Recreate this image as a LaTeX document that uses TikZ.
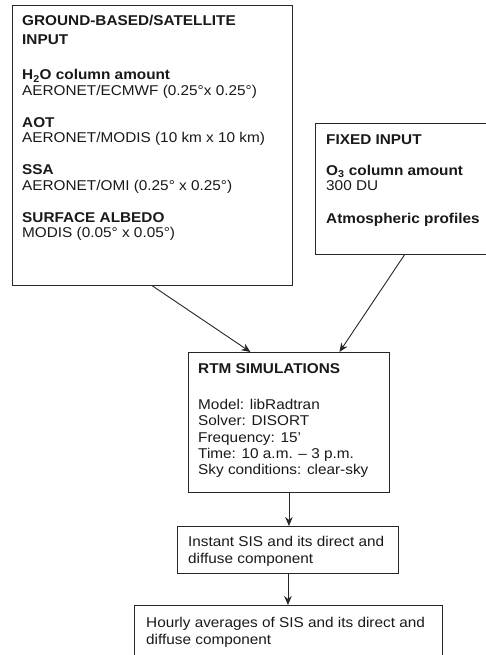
\documentclass[tikz,border=0pt]{standalone}
\usepackage{fontspec}
\setmainfont{Liberation Sans}[FakeStretch=1.08, BoldFeatures={FakeStretch=1.08}]
\usetikzlibrary{arrows.meta}
\tikzset{
 box/.style={draw=black!85, line width=0.9pt, rectangle, inner sep=0pt, anchor=north west},
 txt/.style={anchor=base west, inner sep=0pt, text=black!90, font=\fontsize{14.2}{15.5}\selectfont},
 arr/.style={draw=black!85, line width=0.9pt, -{Stealth[length=9pt,width=7.5pt]}},
}
\newcommand{\tlines}[1]{\begin{tabular}[t]{@{}l@{}}#1\end{tabular}}
\begin{document}
\begin{tikzpicture}[x=1pt,y=-1pt]
\clip (0,0) rectangle (486,655);
\fill[white] (0,0) rectangle (486,655);
% boxes
\node[box, minimum width=280, minimum height=280] (gsi) at (12,5) {};
\node[box, minimum width=178, minimum height=131] (fix) at (315,123) {};
\node[box, minimum width=201, minimum height=140] (rtm) at (188,352) {};
\node[box, minimum width=221, minimum height=47] (inst) at (177,526) {};
\node[box, minimum width=308, minimum height=70] (hour) at (134,605) {};
% texts
\node[txt] (gsit) at (22,26) {\tlines{\textbf{GROUND-BASED/SATELLITE}\\[3pt]
 \textbf{INPUT}\\[20pt]
 \textbf{H\textsubscript{2}O column amount}\\
 AERONET/ECMWF (0.25°x 0.25°)\\[16.5pt]
 \textbf{AOT}\\
 AERONET/MODIS (10 km x 10 km)\\[16.5pt]
 \textbf{SSA}\\
 AERONET/OMI (0.25° x 0.25°)\\[16.5pt]
 \textbf{SURFACE ALBEDO}\\
 MODIS (0.05° x 0.05°)}};
\node[txt] (fixt) at (326,145) {\tlines{\textbf{FIXED INPUT}\\[15pt]
 \textbf{O\textsubscript{3} column amount}\\
 300 DU\\[16.5pt]
 \textbf{Atmospheric profiles}}};
\node[txt] (rtmt) at (198,373) {\tlines{\textbf{RTM SIMULATIONS}\\[21pt]
 Model: libRadtran\\[0.8pt]
 Solver: DISORT\\[0.8pt]
 Frequency: 15’\\[0.8pt]
 Time: 10 a.m. – 3 p.m.\\[0.8pt]
 Sky conditions: clear-sky}};
\node[txt] (instt) at (188,546) {\tlines{Instant SIS and its direct and\\[1.5pt]
 diffuse component}};
\node[txt] (hourt) at (146,627) {\tlines{Hourly averages of SIS and its direct and\\[1.5pt]
 diffuse component}};
% connectors
\draw[arr] (gsi.south) -- ([xshift=-38.5]rtm.north);
\draw[arr] (fix.south) -- ([xshift=50.5]rtm.north);
\draw[arr] (rtm.south) -- (rtm.south |- inst.north);
\draw[arr] (inst.south) -- (inst.south |- hour.north);
\end{tikzpicture}
\end{document}
